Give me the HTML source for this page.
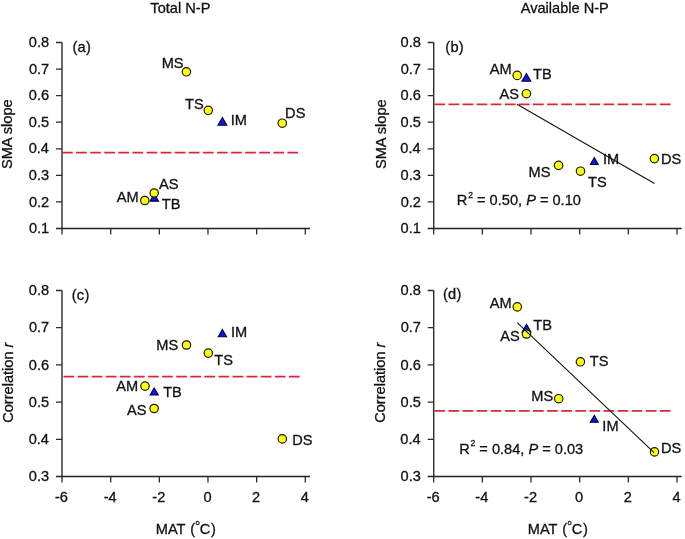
<!DOCTYPE html>
<html><head><meta charset="utf-8"><style>
html,body{margin:0;padding:0;background:#fff;}
svg{display:block;filter:blur(0.35px);}
text{font-family:"Liberation Sans",sans-serif;font-size:14.6px;fill:#111;stroke:#111;stroke-width:0.3px;}
.c circle{fill:#ffff10;stroke:#1a1a00;stroke-width:1.2;}
.c .t{fill:#1414f0;stroke:#000038;stroke-width:1.1;}
</style></head><body>
<svg width="685" height="539" viewBox="0 0 685 539">
<rect width="685" height="539" fill="#fff"/>
<text x="150.37" y="12.60">Total N-P</text>
<text x="520.67" y="13.20">Available N-P</text>
<path d="M62 42.5V228.5" stroke="#2b2b2b" stroke-width="1.4" fill="none"/>
<path d="M56 228.5H310" stroke="#222" stroke-width="1.3" fill="none"/>
<path d="M56 42.50H62M56 69.07H62M56 95.64H62M56 122.21H62M56 148.79H62M56 175.36H62M56 201.93H62" stroke="#2b2b2b" stroke-width="1.3" fill="none"/>
<path d="M62.00 228.5V234.5M110.66 228.5V234.5M159.32 228.5V234.5M207.98 228.5V234.5M256.64 228.5V234.5M305.30 228.5V234.5" stroke="#2b2b2b" stroke-width="1.3" fill="none"/>
<path d="M433.7 42.5V228.5" stroke="#2b2b2b" stroke-width="1.4" fill="none"/>
<path d="M427.7 228.5H681.7" stroke="#222" stroke-width="1.3" fill="none"/>
<path d="M427.7 42.50H433.7M427.7 69.07H433.7M427.7 95.64H433.7M427.7 122.21H433.7M427.7 148.79H433.7M427.7 175.36H433.7M427.7 201.93H433.7" stroke="#2b2b2b" stroke-width="1.3" fill="none"/>
<path d="M433.70 228.5V234.5M482.36 228.5V234.5M531.02 228.5V234.5M579.68 228.5V234.5M628.34 228.5V234.5M677.00 228.5V234.5" stroke="#2b2b2b" stroke-width="1.3" fill="none"/>
<path d="M62 290.5V476.5" stroke="#2b2b2b" stroke-width="1.4" fill="none"/>
<path d="M56 476.5H310" stroke="#222" stroke-width="1.3" fill="none"/>
<path d="M56 290.50H62M56 327.70H62M56 364.90H62M56 402.10H62M56 439.30H62" stroke="#2b2b2b" stroke-width="1.3" fill="none"/>
<path d="M62.00 476.5V482.5M110.66 476.5V482.5M159.32 476.5V482.5M207.98 476.5V482.5M256.64 476.5V482.5M305.30 476.5V482.5" stroke="#2b2b2b" stroke-width="1.3" fill="none"/>
<path d="M433.7 290.5V476.5" stroke="#2b2b2b" stroke-width="1.4" fill="none"/>
<path d="M427.7 476.5H681.7" stroke="#222" stroke-width="1.3" fill="none"/>
<path d="M427.7 290.50H433.7M427.7 327.70H433.7M427.7 364.90H433.7M427.7 402.10H433.7M427.7 439.30H433.7" stroke="#2b2b2b" stroke-width="1.3" fill="none"/>
<path d="M433.70 476.5V482.5M482.36 476.5V482.5M531.02 476.5V482.5M579.68 476.5V482.5M628.34 476.5V482.5M677.00 476.5V482.5" stroke="#2b2b2b" stroke-width="1.3" fill="none"/>
<text x="28.84" y="47.10">0.8</text>
<text x="28.94" y="73.67">0.7</text>
<text x="28.85" y="100.24">0.6</text>
<text x="28.82" y="126.81">0.5</text>
<text x="28.63" y="153.39">0.4</text>
<text x="28.85" y="179.96">0.3</text>
<text x="28.94" y="206.53">0.2</text>
<text x="28.92" y="233.10">0.1</text>
<text x="400.54" y="47.10">0.8</text>
<text x="400.64" y="73.67">0.7</text>
<text x="400.55" y="100.24">0.6</text>
<text x="400.52" y="126.81">0.5</text>
<text x="400.33" y="153.39">0.4</text>
<text x="400.55" y="179.96">0.3</text>
<text x="400.64" y="206.53">0.2</text>
<text x="400.62" y="233.10">0.1</text>
<text x="28.84" y="295.10">0.8</text>
<text x="28.94" y="332.30">0.7</text>
<text x="28.85" y="369.50">0.6</text>
<text x="28.82" y="406.70">0.5</text>
<text x="28.63" y="443.90">0.4</text>
<text x="28.85" y="481.10">0.3</text>
<text x="400.54" y="295.10">0.8</text>
<text x="400.64" y="332.30">0.7</text>
<text x="400.55" y="369.50">0.6</text>
<text x="400.52" y="406.70">0.5</text>
<text x="400.33" y="443.90">0.4</text>
<text x="400.55" y="481.10">0.3</text>
<text x="61.50" y="501.8" text-anchor="middle">-6</text>
<text x="110.16" y="501.8" text-anchor="middle">-4</text>
<text x="158.82" y="501.8" text-anchor="middle">-2</text>
<text x="207.48" y="501.8" text-anchor="middle">0</text>
<text x="256.14" y="501.8" text-anchor="middle">2</text>
<text x="304.80" y="501.8" text-anchor="middle">4</text>
<text x="433.20" y="501.8" text-anchor="middle">-6</text>
<text x="481.86" y="501.8" text-anchor="middle">-4</text>
<text x="530.52" y="501.8" text-anchor="middle">-2</text>
<text x="579.18" y="501.8" text-anchor="middle">0</text>
<text x="627.84" y="501.8" text-anchor="middle">2</text>
<text x="676.50" y="501.8" text-anchor="middle">4</text>
<text x="155.80" y="533.9">MAT <tspan dx="1.0">(</tspan><tspan dy="-9.4" dx="0.2" font-size="7.6">o</tspan><tspan dy="9.4" dx="0.2">C</tspan><tspan dx="0.6">)</tspan></text>
<text x="527.80" y="533.9">MAT <tspan dx="1.0">(</tspan><tspan dy="-9.4" dx="0.2" font-size="7.6">o</tspan><tspan dy="9.4" dx="0.2">C</tspan><tspan dx="0.6">)</tspan></text>
<text transform="translate(12.3,134.2) rotate(-90)" text-anchor="middle">SMA slope</text>
<text transform="translate(386.2,134.2) rotate(-90)" text-anchor="middle">SMA slope</text>
<text transform="translate(12.7,382.7) rotate(-90)" text-anchor="middle">Correlation <tspan font-style="italic">r</tspan></text>
<text transform="translate(385.2,382.7) rotate(-90)" text-anchor="middle">Correlation <tspan font-style="italic">r</tspan></text>
<text x="72.39" y="52.00" letter-spacing="0.3">(a)</text>
<text x="445.29" y="51.80" letter-spacing="0.3">(b)</text>
<text x="71.69" y="300.40" letter-spacing="0.3">(c)</text>
<text x="442.89" y="299.30" letter-spacing="0.3">(d)</text>
<g class="c">
<path d="M62 152.6H298.1" stroke="#d8283a" stroke-width="1.75" stroke-dasharray="10.7 3.39" fill="none"/>
<circle cx="186.4" cy="71.8" r="4.2"/>
<circle cx="208.3" cy="110.3" r="4.2"/>
<path class="t" d="M222.40 117.60L226.84 125.25L217.96 125.25Z"/>
<circle cx="282.3" cy="123.2" r="4.2"/>
<path class="t" d="M154.30 193.80L158.56 201.15L150.04 201.15Z"/>
<circle cx="144.8" cy="200.5" r="4.2"/>
<circle cx="154.2" cy="193.0" r="4.2"/>
<path d="M434.4 104.3H670.5" stroke="#d8283a" stroke-width="1.75" stroke-dasharray="10.7 3.39" fill="none"/>
<circle cx="517.2" cy="75.4" r="4.2"/>
<path class="t" d="M526.40 73.60L530.84 81.25L521.96 81.25Z"/>
<circle cx="526.4" cy="93.7" r="4.2"/>
<circle cx="558.6" cy="165.4" r="4.2"/>
<circle cx="580.5" cy="171.2" r="4.2"/>
<path class="t" d="M594.30 157.60L598.27 164.45L590.33 164.45Z"/>
<circle cx="654.4" cy="158.6" r="4.2"/>
<path d="M517 104.2L654.5 183.5" stroke="#111" stroke-width="1.1" fill="none"/>
<path d="M63.5 376.6H299.6" stroke="#d8283a" stroke-width="1.75" stroke-dasharray="10.7 3.39" fill="none"/>
<circle cx="186.5" cy="345.0" r="4.2"/>
<circle cx="208.3" cy="353.1" r="4.2"/>
<path class="t" d="M222.40 329.60L226.55 336.75L218.25 336.75Z"/>
<circle cx="145" cy="386.1" r="4.2"/>
<path class="t" d="M154.20 388.00L158.29 395.05L150.11 395.05Z"/>
<circle cx="154.1" cy="408.5" r="4.2"/>
<circle cx="282.3" cy="438.9" r="4.2"/>
<path d="M434.4 410.9H670.5" stroke="#d8283a" stroke-width="1.75" stroke-dasharray="10.7 3.39" fill="none"/>
<circle cx="517.3" cy="306.9" r="4.2"/>
<path class="t" d="M526.50 324.30L530.88 331.85L522.12 331.85Z"/>
<circle cx="526.5" cy="334.0" r="4.2"/>
<circle cx="580.4" cy="361.8" r="4.2"/>
<circle cx="558.7" cy="398.7" r="4.2"/>
<path class="t" d="M594.30 415.30L598.27 422.15L590.33 422.15Z"/>
<circle cx="654.5" cy="451.9" r="4.2"/>
<path d="M517.2 322.7L654.1 452.7" stroke="#111" stroke-width="1.1" fill="none"/>
</g>
<text x="161.70" y="67.90">MS</text>
<text x="184.97" y="109.20">TS</text>
<text x="230.65" y="124.50">IM</text>
<text x="285.10" y="117.50">DS</text>
<text x="116.77" y="201.80">AM</text>
<text x="159.07" y="188.80">AS</text>
<text x="161.87" y="208.60">TB</text>
<text x="489.87" y="73.50">AM</text>
<text x="532.97" y="78.60">TB</text>
<text x="499.57" y="99.00">AS</text>
<text x="602.95" y="164.10">IM</text>
<text x="660.90" y="163.90">DS</text>
<text x="587.97" y="186.70">TS</text>
<text x="528.60" y="177.00">MS</text>
<text x="456.85" y="204.8">R<tspan dy="-7.3" dx="0.8" font-size="8.6">2</tspan><tspan dy="7.3"> = 0.50, </tspan><tspan font-style="italic">P</tspan> = 0.10</text>
<text x="156.30" y="350.20">MS</text>
<text x="230.95" y="336.60">IM</text>
<text x="214.37" y="365.40">TS</text>
<text x="116.37" y="390.60">AM</text>
<text x="163.17" y="396.90">TB</text>
<text x="126.97" y="414.50">AS</text>
<text x="292.20" y="444.50">DS</text>
<text x="489.67" y="308.00">AM</text>
<text x="533.37" y="330.20">TB</text>
<text x="500.17" y="341.00">AS</text>
<text x="589.77" y="366.30">TS</text>
<text x="531.30" y="400.60">MS</text>
<text x="602.35" y="431.00">IM</text>
<text x="661.00" y="453.20">DS</text>
<text x="459.15" y="453.6">R<tspan dy="-7.3" dx="0.8" font-size="8.6">2</tspan><tspan dy="7.3"> = 0.84, </tspan><tspan font-style="italic">P</tspan> = 0.03</text>
</svg>
</body></html>
